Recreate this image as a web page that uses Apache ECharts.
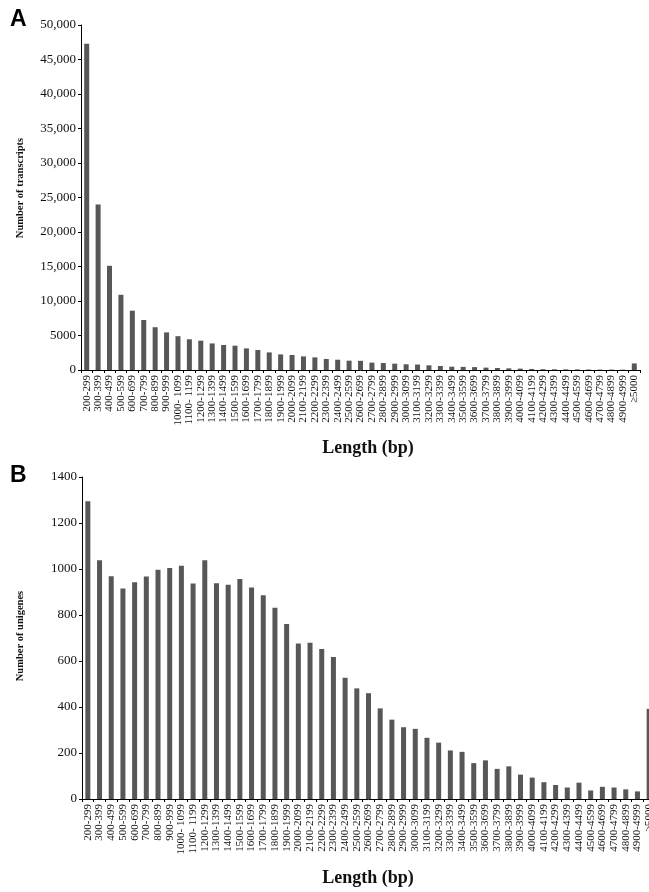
<!DOCTYPE html>
<html>
<head>
<meta charset="utf-8">
<script src="https://cdn.jsdelivr.net/npm/echarts@6/dist/echarts.min.js"></script>
<style>html,body{margin:0;padding:0;background:#fff;overflow:hidden}#c{width:662px;height:892px}</style>
</head>
<body>
<div id="c"></div>
<script>
const categories = ["200-299","300-399","400-499","500-599","600-699","700-799","800-899","900-999",
"1000- 1099","1100- 1199","1200-1299","1300-1399","1400-1499","1500-1599","1600-1699","1700-1799",
"1800-1899","1900-1999","2000-2099","2100-2199","2200-2299","2300-2399","2400-2499","2500-2599",
"2600-2699","2700-2799","2800-2899","2900-2999","3000-3099","3100-3199","3200-3299","3300-3399",
"3400-3499","3500-3599","3600-3699","3700-3799","3800-3899","3900-3999","4000-4099","4100-4199",
"4200-4299","4300-4399","4400-4499","4500-4599","4600-4699","4700-4799","4800-4899","4900-4999","\u22655000"];

const transcripts = [47300,24000,15100,10900,8600,7250,6200,5450,4900,4450,4250,3850,3620,3520,3130,2900,
2550,2260,2170,1970,1830,1600,1490,1350,1330,1070,1010,920,830,790,680,580,
480,450,420,340,290,240,200,150,120,100,90,80,70,60,55,50,950];

const unigenes = [1295,1038,968,915,942,967,997,1004,1014,937,1038,938,932,957,920,886,
832,761,676,679,652,617,527,481,460,394,345,312,305,266,245,211,
205,156,168,131,142,106,93,73,61,50,71,37,53,50,42,33,392];

const yTicksA = {min:0, max:50000, interval:5000};
const yTicksB = {min:0, max:1400, interval:200};

const serif = '"Liberation Serif","DejaVu Serif",serif';
const barColor = '#575757';

function fmtA(v){ return v >= 10000 ? v.toLocaleString('en-US') : String(v); }

const chart = echarts.init(document.getElementById('c'), null, {renderer:'canvas'});
const axisX = (gi) => ({
  type:'category', gridIndex:gi, data:categories, boundaryGap:true,
  axisLine:{lineStyle:{color:'#000', width:1}},
  axisTick:{show:true, length:3, lineStyle:{color:'#000'}},
  axisLabel:{rotate:90, interval:0, margin:5, fontFamily:serif, fontSize:11, color:'#111'}
});
const axisY = (gi, t, fmt) => ({
  type:'value', gridIndex:gi, min:t.min, max:t.max, interval:t.interval,
  splitLine:{show:false},
  axisLine:{show:true, lineStyle:{color:'#000', width:1}},
  axisTick:{show:true, length:3, lineStyle:{color:'#000'}},
  axisLabel:{margin:5, fontFamily:serif, fontSize:13, color:'#111', formatter:fmt}
});

chart.setOption({
  animation:false,
  backgroundColor:'#fff',
  grid:[
    {left:81, top:25, width:559, height:345, containLabel:false},
    {left:82, top:477, width:573, height:322, containLabel:false}
  ],
  xAxis:[axisX(0), axisX(1)],
  yAxis:[axisY(0, yTicksA, fmtA), axisY(1, yTicksB, v => String(v))],
  series:[
    {type:'bar', xAxisIndex:0, yAxisIndex:0, data:transcripts, barWidth:5, itemStyle:{color:barColor}},
    {type:'bar', xAxisIndex:1, yAxisIndex:1, data:unigenes, barWidth:5, itemStyle:{color:barColor}}
  ],
  graphic:[
    {type:'text', left:10, top:8, style:{text:'A', font:'bold 23px "Liberation Sans", Arial, sans-serif', fill:'#000'}},
    {type:'text', left:10, top:464, style:{text:'B', font:'bold 23px "Liberation Sans", Arial, sans-serif', fill:'#000'}},
    {type:'text', x:368, y:448, style:{text:'Length (bp)', font:'bold 18px '+serif, fill:'#111', align:'center', verticalAlign:'middle'}},
    {type:'text', x:368, y:878, style:{text:'Length (bp)', font:'bold 18px '+serif, fill:'#111', align:'center', verticalAlign:'middle'}},
    {type:'text', x:20, y:188, rotation:Math.PI/2, style:{text:'Number of transcripts', font:'bold 10.5px '+serif, fill:'#111', align:'center', verticalAlign:'middle'}},
    {type:'text', x:20, y:636, rotation:Math.PI/2, style:{text:'Number of unigenes', font:'bold 10.5px '+serif, fill:'#111', align:'center', verticalAlign:'middle'}}
  ]
});
</script>
</body>
</html>
